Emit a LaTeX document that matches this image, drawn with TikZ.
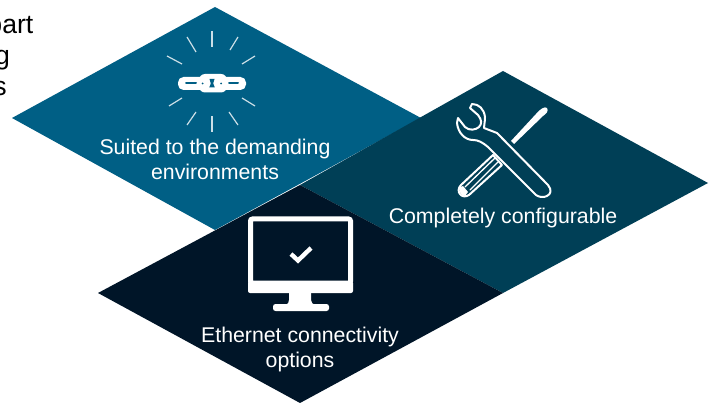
\documentclass[tikz,border=0pt]{standalone}
\usepackage{fontspec}
\setmainfont{Liberation Sans}
\definecolor{topblue}{HTML}{005F85}
\definecolor{midblue}{HTML}{003F56}
\definecolor{darkblue}{HTML}{001528}
\tikzset{
  x=1pt,y=-1pt,
  tile/.style={draw=none},
  caption/.style={text=white,font=\fontsize{21.3}{25}\selectfont,align=center,inner sep=0pt},
  cut/.style={text=black,font=\fontsize{26.6}{26.6}\selectfont,anchor=base east,inner sep=0pt},
  ray/.style={draw=white!80!topblue,line width=1.2pt},
  iconw/.style={draw=white,line join=round,line cap=round},
}
\begin{document}
\begin{tikzpicture}
\useasboundingbox (0,0) rectangle (717,403);
\clip (0,0) rectangle (717,403);
\fill[white] (0,0) rectangle (717,403);
% cut-off text
\node[cut] (t1) at (33.5,34) {part};
\node[cut] (t2) at (10,65) {g};
\node[cut] (t3) at (7,96) {s};
% tiles
\fill[tile,topblue] (215,7) -- (12,118) -- (215,230) -- (421,118) -- cycle;
\fill[tile,midblue] (503,71) -- (300,185) -- (503,293) -- (708,183) -- cycle;
\fill[tile,darkblue] (300,185) -- (98,293) -- (300,403) -- (503,293) -- cycle;
% rays
\foreach \a/\b/\c/\d in {212/31/212/47, 238/37/230/50, 255/56/242/64, 255/106/242/98, 238/125/229/112, 212/132/212/116, 187/125/196/112, 169/106/182/98, 167/56/182/64, 187/37/196/52}{
  \draw[ray] (\a,\b) -- (\c,\d);
}
% chain icon
\fill[white,rounded corners=5.5pt] (178,77) rectangle (206,90);
\fill[white,rounded corners=5.5pt] (218,77) rectangle (246,90);
\fill[white,rounded corners=6pt] (199,74) rectangle (227,92.5);
\draw[topblue,line width=2pt,line cap=round] (186,83.5) -- (196,83.5);
\draw[topblue,line width=2pt,line cap=round] (229,83.5) -- (238,83.5);
\fill[topblue] (202.5,83.5) circle (1pt) (221,83.5) circle (1pt);
\fill[topblue] (209.5,79) -- (214.5,79) -- (213.2,83.5) -- (214.8,87.5) -- (209.2,87.5) -- (210.8,83.5) -- cycle;
% screwdriver blade
\fill[white] (511,141) -- (536,114) .. controls (540,109) and (545,106) .. (547,108) .. controls (549,111) and (546,114) .. (543,116) -- (514,144) -- cycle;
% screwdriver handle
\draw[iconw,line width=2pt,fill=midblue] (493,155) -- (461,185) .. controls (458,188) and (458,192) .. (460,194) .. controls (462,197) and (466,197) .. (469,195) -- (502,165) -- cycle;
\draw[iconw,line width=1.3pt] (495,158) -- (465,187);
\draw[iconw,line width=1.3pt] (498,162) -- (470,190);
\fill[white] (460,187) .. controls (458,190) and (460,195) .. (465,196) -- (468,192) -- (463,186) -- cycle;
% wrench
\draw[iconw,line width=2pt,fill=midblue]
  (472,104) .. controls (479,104) and (484,109) .. (485,117)
  .. controls (485,122) and (484,125) .. (484,128)
  -- (497,133) -- (548,185) .. controls (552,190) and (551,194) .. (547,196) .. controls (543,198) and (539,197) .. (536,195)
  -- (488,147) .. controls (482,142) and (478,140) .. (473,140)
  .. controls (465,140) and (458,133) .. (457,123)
  -- (458,118) -- (465,127) .. controls (469,131) and (476,130) .. (479,127) .. controls (482,124) and (482,120) .. (478,115) -- (470,108) -- cycle;
% monitor
\draw[white,line width=5pt,rounded corners=2pt,fill=darkblue] (250.5,219) rectangle (350.5,283);
\fill[white,rounded corners=2pt] (248,281) rectangle (353,293);
\fill[white] (289,292) -- (311,292) -- (311,300) .. controls (311,303) and (313,304) .. (315,305) -- (285,305) .. controls (288,304) and (289,303) .. (289,300) -- cycle;
\fill[white,rounded corners=2.5pt] (273,304) rectangle (329,311);
\draw[white,line width=4.4pt] (291,254) -- (298,260.5) -- (311,248);
% captions
\node[caption] (c1) at (215,159.5) {Suited to the demanding\\environments};
\node[caption] (c2) at (503,217.5) {Completely configurable};
\node[caption] (c3) at (300,349) {Ethernet connectivity\\options};
\end{tikzpicture}
\end{document}
